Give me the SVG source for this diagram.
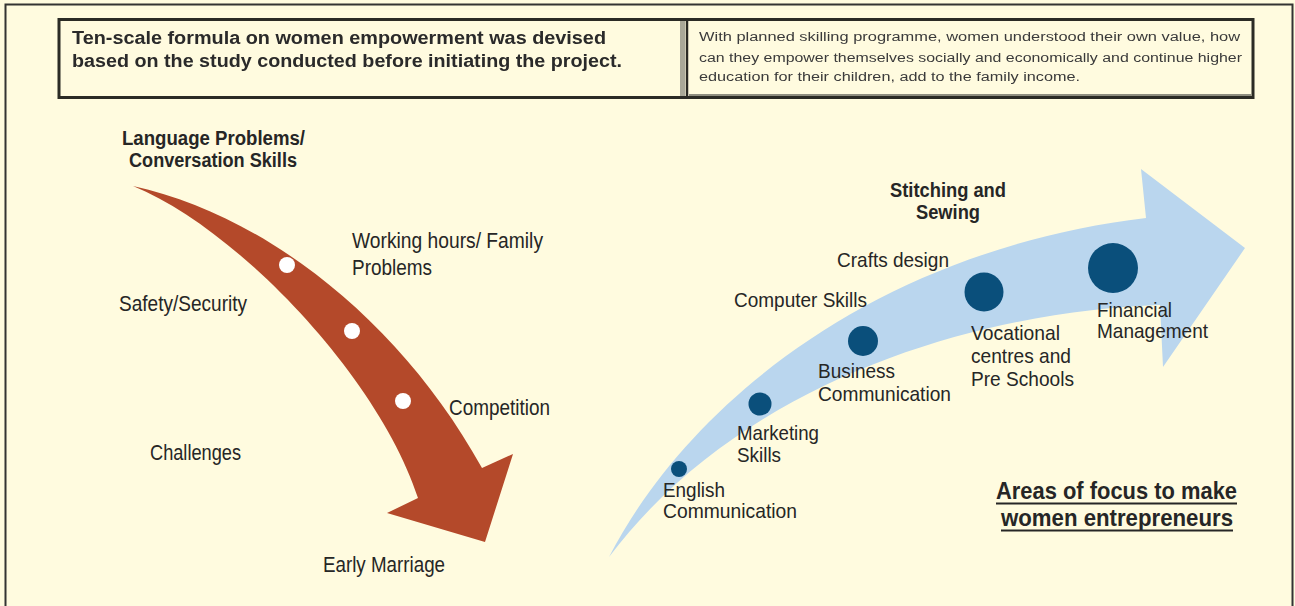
<svg xmlns="http://www.w3.org/2000/svg" width="1295" height="606" viewBox="0 0 1295 606">
  <defs>
    <style>
      .lbl { font-family: "Liberation Sans", Arial, sans-serif; font-size: 22px; fill: #262626; }
      .lbl-r { font-family: "Liberation Sans", Arial, sans-serif; font-size: 21px; fill: #262626; }
      .bold { font-family: "Liberation Sans", Arial, sans-serif; font-size: 20px; font-weight: bold; fill: #262626; }
      .title { font-family: "Liberation Sans", Arial, sans-serif; font-size: 24.5px; font-weight: bold; fill: #262626; }
      .hdr-l { font-family: "Liberation Sans", Arial, sans-serif; font-size: 18px; font-weight: bold; fill: #2a2a2a; }
      .hdr-r { font-family: "Liberation Sans", Arial, sans-serif; font-size: 12px; fill: #3a3a3a; }
      .wdot { fill: #ffffff; }
      .bdot { fill: #0a4f7b; }
    </style>
    <filter id="soft" x="-5%" y="-20%" width="110%" height="140%">
      <feGaussianBlur stdDeviation="0.45"/>
    </filter>
  </defs>

  <!-- page background and frame -->
  <rect x="0" y="0" width="1295" height="606" fill="#fffbdf"/>
  <rect x="5.5" y="4.5" width="1287" height="620" fill="none" stroke="#333333" stroke-width="2"/>

  <!-- header boxes -->
  <g id="header">
    <rect x="59" y="19.5" width="1194" height="78" fill="#fffbdf" stroke="#2b2b25" stroke-width="3"/>
    <rect x="680" y="21" width="5" height="75" fill="#a9a898"/>
    <line x1="687" y1="19.5" x2="687" y2="97.5" stroke="#2b2b25" stroke-width="2.5"/>
    <line x1="689" y1="95" x2="1251" y2="95" stroke="#8f8e80" stroke-width="2"/>
    <g filter="url(#soft)">
      <text class="hdr-l" x="72" y="44" textLength="534" lengthAdjust="spacingAndGlyphs">Ten-scale formula on women empowerment was devised</text>
      <text class="hdr-l" x="72" y="67" textLength="550" lengthAdjust="spacingAndGlyphs">based on the study conducted before initiating the project.</text>
      <text class="hdr-r" x="699" y="41" textLength="541" lengthAdjust="spacingAndGlyphs">With planned skilling programme, women understood their own value, how</text>
      <text class="hdr-r" x="699" y="61.5" textLength="543" lengthAdjust="spacingAndGlyphs">can they empower themselves socially and economically and continue higher</text>
      <text class="hdr-r" x="699" y="81" textLength="381" lengthAdjust="spacingAndGlyphs">education for their children, add to the family income.</text>
    </g>
  </g>

  <!-- connectors: the two curved arrows -->
  <g id="connectors">
    <path id="challenges-arrow" fill="#b4492a"
          d="M133,186 C265,215 400,320 482,468 L513,454 L485,542 L387,513 L418,498 C380,380 240,230 133,186 Z"/>
    <path id="focus-arrow" fill="#bad6ee"
          d="M609,557 C690,400 880,250 1146,218 L1141,169 L1245,248 L1163,367 L1160,305 C1000,310 750,370 609,557 Z"/>
  </g>

  <!-- challenges side -->
  <g id="challenge-dots">
    <circle class="wdot" cx="287" cy="265" r="8"/>
    <circle class="wdot" cx="352" cy="331" r="8"/>
    <circle class="wdot" cx="403" cy="401" r="8"/>
  </g>
  <g id="node-language">
    <text class="bold" x="122" y="145" textLength="183" lengthAdjust="spacingAndGlyphs">Language Problems/</text>
    <text class="bold" x="129" y="167" textLength="168" lengthAdjust="spacingAndGlyphs">Conversation Skills</text>
  </g>
  <g id="node-working">
    <text class="lbl" x="352" y="248" textLength="191" lengthAdjust="spacingAndGlyphs">Working hours/ Family</text>
    <text class="lbl" x="352" y="275" textLength="80" lengthAdjust="spacingAndGlyphs">Problems</text>
  </g>
  <g id="node-safety">
    <text class="lbl" x="119" y="311" textLength="128" lengthAdjust="spacingAndGlyphs">Safety/Security</text>
  </g>
  <g id="node-competition">
    <text class="lbl" x="449" y="415" textLength="101" lengthAdjust="spacingAndGlyphs">Competition</text>
  </g>
  <g id="node-challenges">
    <text class="lbl" x="150" y="460" textLength="91" lengthAdjust="spacingAndGlyphs">Challenges</text>
  </g>
  <g id="node-marriage">
    <text class="lbl" x="323" y="572" textLength="122" lengthAdjust="spacingAndGlyphs">Early Marriage</text>
  </g>

  <!-- focus side -->
  <g id="focus-dots">
    <circle class="bdot" cx="679" cy="469" r="8"/>
    <circle class="bdot" cx="760" cy="404" r="11.5"/>
    <circle class="bdot" cx="863" cy="341" r="15"/>
    <circle class="bdot" cx="984" cy="292" r="19.5"/>
    <circle class="bdot" cx="1113" cy="268" r="25"/>
  </g>
  <g id="node-stitching">
    <text class="bold" x="890" y="197" textLength="116" lengthAdjust="spacingAndGlyphs">Stitching and</text>
    <text class="bold" x="916" y="219" textLength="64" lengthAdjust="spacingAndGlyphs">Sewing</text>
  </g>
  <g id="node-crafts">
    <text class="lbl-r" x="837" y="267" textLength="112" lengthAdjust="spacingAndGlyphs">Crafts design</text>
  </g>
  <g id="node-computer">
    <text class="lbl-r" x="734" y="307" textLength="133" lengthAdjust="spacingAndGlyphs">Computer Skills</text>
  </g>
  <g id="node-business">
    <text class="lbl-r" x="818" y="378" textLength="77" lengthAdjust="spacingAndGlyphs">Business</text>
    <text class="lbl-r" x="818" y="401" textLength="133" lengthAdjust="spacingAndGlyphs">Communication</text>
  </g>
  <g id="node-vocational">
    <text class="lbl-r" x="971" y="340" textLength="89" lengthAdjust="spacingAndGlyphs">Vocational</text>
    <text class="lbl-r" x="971" y="363" textLength="100" lengthAdjust="spacingAndGlyphs">centres and</text>
    <text class="lbl-r" x="971" y="386" textLength="103" lengthAdjust="spacingAndGlyphs">Pre Schools</text>
  </g>
  <g id="node-financial">
    <text class="lbl-r" x="1097" y="317" textLength="75" lengthAdjust="spacingAndGlyphs">Financial</text>
    <text class="lbl-r" x="1097" y="338" textLength="111" lengthAdjust="spacingAndGlyphs">Management</text>
  </g>
  <g id="node-marketing">
    <text class="lbl-r" x="737" y="440" textLength="82" lengthAdjust="spacingAndGlyphs">Marketing</text>
    <text class="lbl-r" x="737" y="462" textLength="44" lengthAdjust="spacingAndGlyphs">Skills</text>
  </g>
  <g id="node-english">
    <text class="lbl-r" x="663" y="497" textLength="62" lengthAdjust="spacingAndGlyphs">English</text>
    <text class="lbl-r" x="663" y="518" textLength="134" lengthAdjust="spacingAndGlyphs">Communication</text>
  </g>
  <g id="node-areas">
    <text class="title" x="996" y="499" textLength="241" lengthAdjust="spacingAndGlyphs">Areas of focus to make</text>
    <text class="title" x="1001" y="526" textLength="232" lengthAdjust="spacingAndGlyphs">women entrepreneurs</text>
    <line x1="996" y1="503.5" x2="1237" y2="503.5" stroke="#262626" stroke-width="2"/>
    <line x1="1001" y1="530.5" x2="1233" y2="530.5" stroke="#262626" stroke-width="2"/>
  </g>
</svg>
